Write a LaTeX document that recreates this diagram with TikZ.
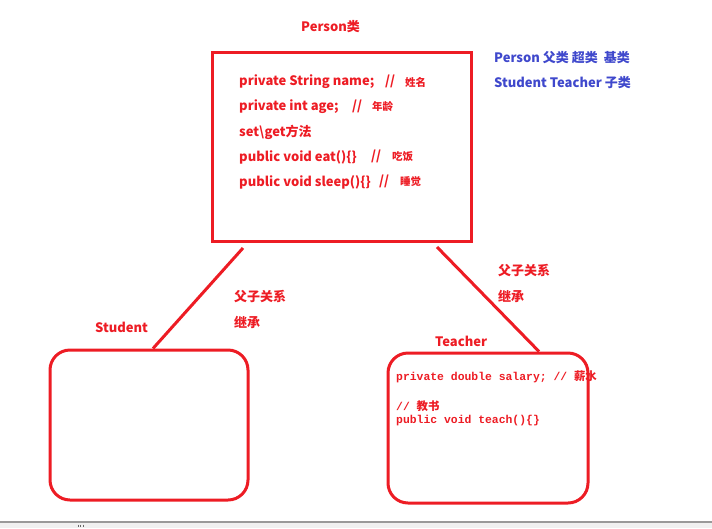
\documentclass[tikz,border=0pt]{standalone}
\usepackage{fontspec}
\setmainfont{Noto Sans CJK SC}
\newfontfamily\codefont{Liberation Mono}
\newfontfamily\cjk{Noto Sans CJK SC}
\usetikzlibrary{positioning}
\definecolor{paintred}{RGB}{237,28,36}
\definecolor{paintblue}{RGB}{63,72,204}
\tikzset{
  classbox/.style={draw=paintred,line width=3pt,minimum width=#1,minimum height=150pt,inner sep=0pt},
  txt/.style={text=paintred,font=\bfseries\fontsize{13}{15}\selectfont,anchor=west,inner sep=0pt},
  note/.style={text=paintred,font=\bfseries\fontsize{10.5}{12}\selectfont,anchor=west,inner sep=0pt},
  code/.style={text=paintred,font=\codefont\bfseries\fontsize{11.4}{13}\selectfont,anchor=west,inner sep=0pt},
  link/.style={draw=paintred,line width=3pt}
}
\begin{document}
\begin{tikzpicture}[x=1pt,y=-1pt]
  \useasboundingbox (0,0) rectangle (712,528);
  % window status bar
  \fill[black!6] (0,522) rectangle (712,528);
  \draw[black!40,line width=1.5pt] (0,522) -- (712,522);
  \foreach \x in {78,80.5,83}
    \draw[black!60,line width=0.8pt] (\x,524.5) -- (\x,526.5);

  % Person class
  \node[classbox=259pt,minimum height=189pt] (person) at (341.5,146.5) {};
  \node[txt] (ptitle) at (301,27) {Person类};
  \foreach \y/\main/\sx/\cx/\note [count=\i] in {
      82/{private String name;}/385/405/姓名,
      107/{private int age;}/352/372/年龄,
      132/{set\textbackslash get方法}/0/0/{},
      157/{public void eat()\{\}}/371/392/吃饭,
      182/{public void sleep()\{\}}/379/400/睡觉}{
    \node[txt] (line\i) at (239,\y) {\main};
    \ifnum\sx>0
      \node[txt] (slash\i) at (\sx,\y-1) {//};
      \node[note] (note\i) at (\cx,\y) {\note};
    \fi
  }

  % legend
  \node[txt,text=paintblue] (super) at (494,58) {Person 父类 超类\ \ 基类};
  \node[txt,text=paintblue] (sub) at (494,83) {Student Teacher 子类};

  % subclasses
  \node[classbox=198pt,rounded corners=20pt] (student) at (149,425) {};
  \node[txt] (stitle) at (95,327) {Student};
  \node[classbox=200pt,rounded corners=20pt] (teacher) at (488,428) {};
  \node[txt] (ttitle) at (435,341) {Teacher};
  \node[code] (field) at (396,377) {private double salary; // \cjk 薪水};
  \node[code] (cmt) at (396,406) {// \cjk 教书};
  \node[code] (meth) at (396,421) {public void teach()\{\}};

  % inheritance links
  \coordinate (pl) at (243,248);
  \coordinate (pr) at (437,247);
  \draw[link] (pl) -- (student.north -| 153,0);
  \draw[link] (pr) -- (teacher.north -| 539,0);
  \node[txt] (rel1) at (234,297) {父子关系};
  \node[txt] (inh1) at (234,322) {继承};
  \node[txt] (rel2) at (498,271) {父子关系};
  \node[txt] (inh2) at (498,296) {继承};
\end{tikzpicture}
\end{document}
